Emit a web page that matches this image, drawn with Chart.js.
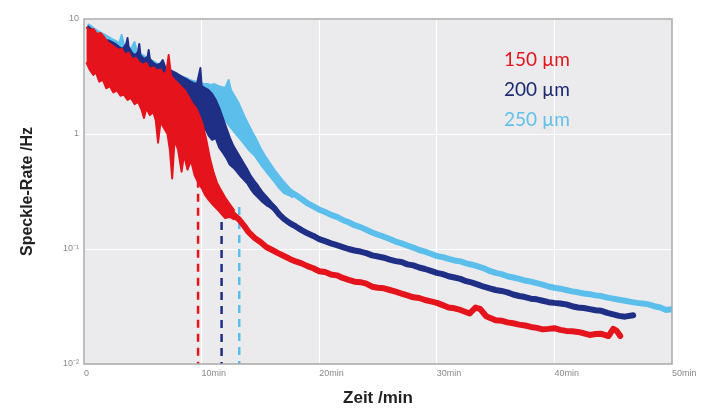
<!DOCTYPE html>
<html><head><meta charset="utf-8">
<script src="https://cdn.jsdelivr.net/npm/chart.js@4.4.1/dist/chart.umd.min.js"></script>
<style>html,body{margin:0;padding:0;background:#fff;}</style>
</head><body>
<canvas id="c" width="701" height="412"></canvas>
<script>
// ---- data: [time in min, speckle rate in Hz] ----
const seriesLabels = ['150 µm', '200 µm', '250 µm'];
const seriesColors = ['#e5131c', '#1f2f86', '#5cbfeb'];
const legendColors = ['#e3161e', '#1c2a6e', '#62c1ea'];

// noisy early phase: upper and lower edge of the scatter band
const upper150 = [[0.2,8.5],[0.5,8.0],[0.8,8.2],[1.1,7.4],[1.4,7.55],[1.7,6.97],[2.0,6.3],[2.3,6.0],[2.6,5.7],[2.9,5.4],[3.2,5.5],[3.5,4.9],[3.8,5.1],[4.1,4.45],[4.4,4.6],[4.7,4.2],[5.0,4.0],[5.3,4.15],[5.6,3.7],[5.9,3.8],[6.2,3.55],[6.5,3.65],[6.8,3.3],[7.0,3.45],[7.2,4.86],[7.4,3.2],[7.7,2.95],[8.0,2.75],[8.3,2.55],[8.6,2.38],[8.9,2.1],[9.2,1.86],[9.5,1.69],[9.8,1.46],[10.1,1.2],[10.4,0.89],[10.7,0.62],[11.0,0.47],[11.3,0.38],[11.6,0.33],[12.0,0.28],[12.4,0.245],[12.8,0.215]];
const lower150 = [[0.2,4.2],[0.5,3.6],[0.8,3.26],[1.0,3.46],[1.3,2.85],[1.6,2.95],[1.9,2.5],[2.2,2.6],[2.5,2.3],[2.8,2.4],[3.1,2.15],[3.4,2.2],[3.7,1.98],[4.0,2.05],[4.3,1.82],[4.6,1.9],[4.9,1.62],[5.1,1.38],[5.3,1.67],[5.6,1.46],[5.9,1.55],[6.1,1.32],[6.3,0.84],[6.5,1.27],[6.8,1.13],[7.1,1.0],[7.3,0.73],[7.5,0.41],[7.7,0.89],[8.0,0.73],[8.3,0.47],[8.5,0.66],[8.8,0.49],[9.1,0.59],[9.4,0.44],[9.7,0.38],[10.0,0.34],[10.3,0.295],[10.6,0.267],[11.0,0.24],[11.4,0.218],[12.0,0.186],[12.4,0.19],[12.8,0.18]];
const tail150 = [[11.6,0.27],[12.0,0.24],[12.4,0.215],[12.8,0.195],[13.2,0.18],[13.6,0.16],[14.0,0.14],[14.5,0.125],[15.0,0.115],[15.5,0.104],[16,0.098],[16.5,0.092],[17,0.087],[17.5,0.082],[18,0.078],[18.5,0.075],[19,0.071],[19.5,0.068],[20,0.064],[20.5,0.063],[21,0.060],[21.5,0.059],[22,0.056],[22.5,0.054],[23,0.052],[23.5,0.0515],[24,0.050],[24.5,0.047],[25,0.046],[25.5,0.0455],[26,0.044],[26.5,0.0425],[27,0.041],[27.5,0.0395],[28,0.038],[28.5,0.0375],[29,0.036],[29.5,0.035],[30,0.034],[30.5,0.0325],[31,0.031],[31.5,0.0305],[32,0.0295],[32.8,0.0275],[33.3,0.031],[33.7,0.030],[34.2,0.026],[35,0.024],[35.5,0.0238],[36,0.023],[36.5,0.0226],[37,0.022],[37.5,0.0216],[38,0.021],[38.5,0.0206],[39,0.020],[39.5,0.0202],[40,0.0205],[40.5,0.0198],[41,0.0194],[41.5,0.0193],[42,0.019],[42.5,0.0185],[43,0.0179],[43.5,0.0182],[44,0.0183],[44.6,0.0175],[45.0,0.0202],[45.3,0.0194],[45.6,0.0175]];

const upper200 = [[0.3,8.7],[0.6,8.2],[0.9,7.7],[1.2,7.26],[1.5,6.97],[1.8,6.57],[2.1,6.5],[2.4,6.3],[2.7,6.05],[3.0,5.7],[3.3,5.5],[3.6,6.1],[3.7,6.84],[3.8,5.7],[4.1,5.05],[4.4,4.85],[4.6,5.2],[4.7,6.06],[4.8,4.85],[5.1,4.5],[5.4,4.65],[5.5,5.37],[5.6,4.5],[5.9,4.15],[6.2,3.98],[6.5,4.1],[6.7,4.4],[6.9,3.82],[7.2,3.67],[7.5,3.53],[7.8,3.4],[8.1,3.25],[8.4,3.13],[8.7,3.0],[9.0,2.88],[9.3,2.78],[9.6,2.72],[9.9,3.75],[10.0,2.62],[10.3,2.51],[10.6,2.41],[10.9,2.23],[11.2,1.98],[11.5,1.69],[11.8,1.38],[12.1,1.13],[12.4,0.93],[12.7,0.79],[13.0,0.70],[13.3,0.62],[13.6,0.55],[13.9,0.49],[14.2,0.43],[14.5,0.39],[14.8,0.355],[15.2,0.31],[15.6,0.28],[16.0,0.25],[16.4,0.225]];
const lower200 = [[0.3,5.4],[1.0,4.6],[2.0,3.75],[3.0,3.2],[4.0,2.7],[5.0,2.3],[6.0,1.98],[7.0,1.7],[8.0,1.46],[9.0,1.27],[9.6,1.08],[10.0,1.03],[10.3,1.12],[10.6,0.97],[10.9,0.89],[11.2,0.92],[11.5,0.76],[11.8,0.69],[12.1,0.62],[12.4,0.54],[12.7,0.51],[13.0,0.47],[13.3,0.43],[13.6,0.40],[13.9,0.37],[14.2,0.33],[14.5,0.30],[14.8,0.28],[15.2,0.255],[15.6,0.237],[16.0,0.225],[16.4,0.205]];
const tail200 = [[15.4,0.265],[15.8,0.245],[16.2,0.225],[16.6,0.2],[17,0.183],[17.5,0.168],[18,0.157],[18.5,0.146],[19,0.137],[19.5,0.13],[20,0.122],[20.5,0.117],[21,0.112],[21.5,0.108],[22,0.104],[22.5,0.1],[23,0.097],[23.5,0.095],[24,0.092],[24.5,0.088],[25,0.086],[25.5,0.084],[26,0.081],[26.5,0.0785],[27,0.077],[27.5,0.0735],[28,0.072],[28.5,0.069],[29,0.067],[29.5,0.0645],[30,0.062],[30.5,0.0605],[31,0.058],[31.5,0.0565],[32,0.055],[32.5,0.0525],[33,0.051],[33.5,0.049],[34,0.047],[34.5,0.0455],[35,0.044],[35.5,0.0432],[36,0.042],[36.5,0.0402],[37,0.039],[37.5,0.0382],[38,0.037],[38.5,0.0365],[39,0.0355],[39.5,0.0345],[40,0.034],[40.5,0.0336],[41,0.033],[41.5,0.0318],[42,0.031],[42.5,0.0307],[43,0.030],[43.5,0.0293],[44,0.029],[44.5,0.0278],[45,0.027],[45.5,0.0262],[46,0.0258],[46.7,0.0265]];

const upper250 = [[0.3,9.0],[0.6,8.7],[0.9,8.2],[1.2,7.86],[1.5,7.55],[1.8,7.26],[2.1,6.97],[2.4,6.7],[2.7,6.44],[3.0,6.18],[3.2,7.26],[3.4,5.94],[3.7,5.71],[4.0,5.49],[4.3,6.31],[4.5,5.16],[4.8,4.96],[5.1,4.77],[5.4,4.58],[5.7,4.4],[6.0,4.23],[6.3,4.06],[6.6,3.9],[6.9,3.75],[7.2,3.6],[7.5,3.46],[7.8,3.33],[8.1,3.26],[8.4,3.13],[8.7,3.07],[9.0,2.95],[9.3,2.89],[9.6,2.83],[9.9,2.78],[10.2,2.72],[10.5,2.72],[10.8,2.67],[11.1,2.72],[11.4,2.62],[11.7,2.56],[12.0,2.51],[12.3,2.95],[12.5,2.41],[12.8,2.14],[13.1,1.9],[13.4,1.62],[13.7,1.38],[14.0,1.2],[14.3,1.04],[14.6,0.92],[15.0,0.755],[15.4,0.644],[15.8,0.56],[16.2,0.486],[16.6,0.43],[17.0,0.383],[17.4,0.345],[17.8,0.315]];
const lower250 = [[0.3,6.6],[1.0,5.8],[2.0,5.0],[3.0,4.2],[4.0,3.6],[5.0,3.2],[6.0,2.85],[7.0,2.5],[8.0,2.2],[9.0,2.05],[10.0,1.98],[10.5,1.8],[11.0,1.62],[11.5,1.43],[12.0,1.32],[12.5,1.13],[13.0,0.98],[13.5,0.85],[14.0,0.73],[14.5,0.65],[15.0,0.548],[15.4,0.486],[15.8,0.43],[16.2,0.383],[16.6,0.339],[17.0,0.307],[17.4,0.295],[17.8,0.28]];
const tail250 = [[16.8,0.35],[17.2,0.33],[17.6,0.31],[18,0.295],[18.5,0.272],[19,0.25],[19.5,0.235],[20,0.22],[20.5,0.21],[21,0.198],[21.5,0.19],[22,0.179],[22.5,0.171],[23,0.161],[23.5,0.155],[24,0.147],[24.5,0.139],[25,0.133],[25.5,0.128],[26,0.122],[26.5,0.116],[27,0.112],[27.5,0.107],[28,0.103],[28.5,0.098],[29,0.095],[29.5,0.091],[30,0.087],[30.5,0.085],[31,0.082],[31.5,0.0795],[32,0.078],[32.5,0.075],[33,0.073],[33.5,0.0705],[34,0.068],[34.5,0.0645],[35,0.062],[35.5,0.0605],[36,0.058],[36.5,0.0565],[37,0.055],[37.5,0.0532],[38,0.052],[38.5,0.0505],[39,0.049],[39.5,0.0472],[40,0.046],[40.5,0.0452],[41,0.044],[41.5,0.0428],[42,0.042],[42.5,0.041],[43,0.0405],[43.5,0.0395],[44,0.039],[44.5,0.0378],[45,0.037],[45.5,0.0362],[46,0.0355],[46.5,0.0347],[47,0.034],[47.5,0.0336],[48,0.033],[48.5,0.0318],[49,0.031],[49.5,0.0295],[50,0.030]];

// vertical dashed markers (time, rate where the marker starts)
const markerTime = [9.7, 11.7, 13.2];
const markerTop  = [0.40, 0.172, 0.232];

const xTickValues = [0, 10, 20, 30, 40, 50];
const xTickLabels = ['0', '10min', '20min', '30min', '40min', '50min'];
const yTickValues = [0.01, 0.1, 1, 10];
const yTickLabels = ['10\u207B\u00B2', '10\u207B\u00B9', '1', '10'];

// ---- build chart ----
const toXY = arr => arr.map(([x, y]) => ({x, y}));
const bands = [[upper150, lower150, tail150], [upper200, lower200, tail200], [upper250, lower250, tail250]];

const datasets = [];
bands.forEach(([up, low, tail], i) => {
  const c = seriesColors[i];
  datasets.push({label: seriesLabels[i] + ' upper', data: toXY(up), borderColor: c, backgroundColor: c,
    borderWidth: 2, borderJoinStyle: 'round', pointRadius: 0, tension: 0, fill: false});
  datasets.push({label: seriesLabels[i] + ' lower', data: toXY(low), borderColor: c, backgroundColor: c,
    borderWidth: 2, borderJoinStyle: 'round', pointRadius: 0, tension: 0, fill: '-1'});
  datasets.push({label: seriesLabels[i], data: toXY(tail), borderColor: c, backgroundColor: c,
    borderWidth: 6, borderJoinStyle: 'round', borderCapStyle: 'round', pointRadius: 0, tension: 0, fill: false});
});
markerTime.forEach((t, i) => {
  datasets.push({label: 'marker ' + seriesLabels[i], data: [{x: t, y: markerTop[i]}, {x: t, y: 0.01}],
    borderColor: seriesColors[i], borderWidth: 2.5, borderDash: [8, 6], pointRadius: 0, fill: false});
});

const plotFrame = {
  id: 'plotFrame',
  beforeDraw(chart) {
    const {ctx, chartArea: a} = chart;
    ctx.save();
    ctx.fillStyle = '#ebebee';
    ctx.fillRect(a.left, a.top, a.right - a.left, a.bottom - a.top);
    ctx.restore();
  },
  afterDraw(chart) {
    const {ctx, chartArea: a} = chart;
    ctx.save();
    ctx.strokeStyle = '#a9a9a9';
    ctx.lineWidth = 1.5;
    ctx.strokeRect(a.left, a.top, a.right - a.left, a.bottom - a.top);
    ctx.font = '19px Lato, "Open Sans", sans-serif';
    ctx.textAlign = 'left';
    ctx.textBaseline = 'middle';
    const ys = [60, 90, 120];
    seriesLabels.forEach((s, i) => {
      ctx.fillStyle = legendColors[i];
      ctx.fillText(s, 504, ys[i]);
    });
    ctx.restore();
  }
};

const tickFont = {family: '"Liberation Sans", Arial, sans-serif', size: 9};

new Chart(document.getElementById('c').getContext('2d'), {
  type: 'line',
  data: {datasets},
  options: {
    responsive: false,
    animation: false,
    layout: {padding: {left: 14, top: 19, right: 29, bottom: 0}},
    plugins: {legend: {display: false}, tooltip: {enabled: false}, filler: {propagate: false}},
    scales: {
      x: {
        type: 'linear', min: 0, max: 50,
        afterBuildTicks: s => { s.ticks = xTickValues.map(v => ({value: v})); },
        afterFit: s => { s.height = 48; },
        grid: {color: '#ffffff', lineWidth: 1, drawTicks: false},
        border: {display: false},
        ticks: {
          align: 'start', padding: 4, color: '#8a8a8a', font: tickFont, maxRotation: 0,
          callback: v => xTickLabels[xTickValues.indexOf(v)]
        },
        title: {
          display: true, text: 'Zeit /min', color: '#222',
          font: {family: '"Liberation Sans", Arial, sans-serif', size: 17, weight: 'bold'},
          padding: {top: 0, bottom: 3}
        }
      },
      y: {
        type: 'logarithmic', min: 0.01, max: 10,
        afterBuildTicks: s => { s.ticks = yTickValues.map(v => ({value: v})); },
        afterFit: s => { s.width = 70; },
        grid: {color: '#ffffff', lineWidth: 1, drawTicks: false},
        border: {display: false},
        ticks: {
          padding: 5, color: '#8a8a8a', font: tickFont,
          callback: v => yTickLabels[yTickValues.indexOf(v)]
        },
        title: {
          display: true, text: 'Speckle-Rate /Hz', color: '#222',
          font: {family: '"Liberation Sans", Arial, sans-serif', size: 16, weight: 'bold'},
          padding: {top: 4, bottom: 0}
        }
      }
    }
  },
  plugins: [plotFrame]
});
</script>
</body></html>
